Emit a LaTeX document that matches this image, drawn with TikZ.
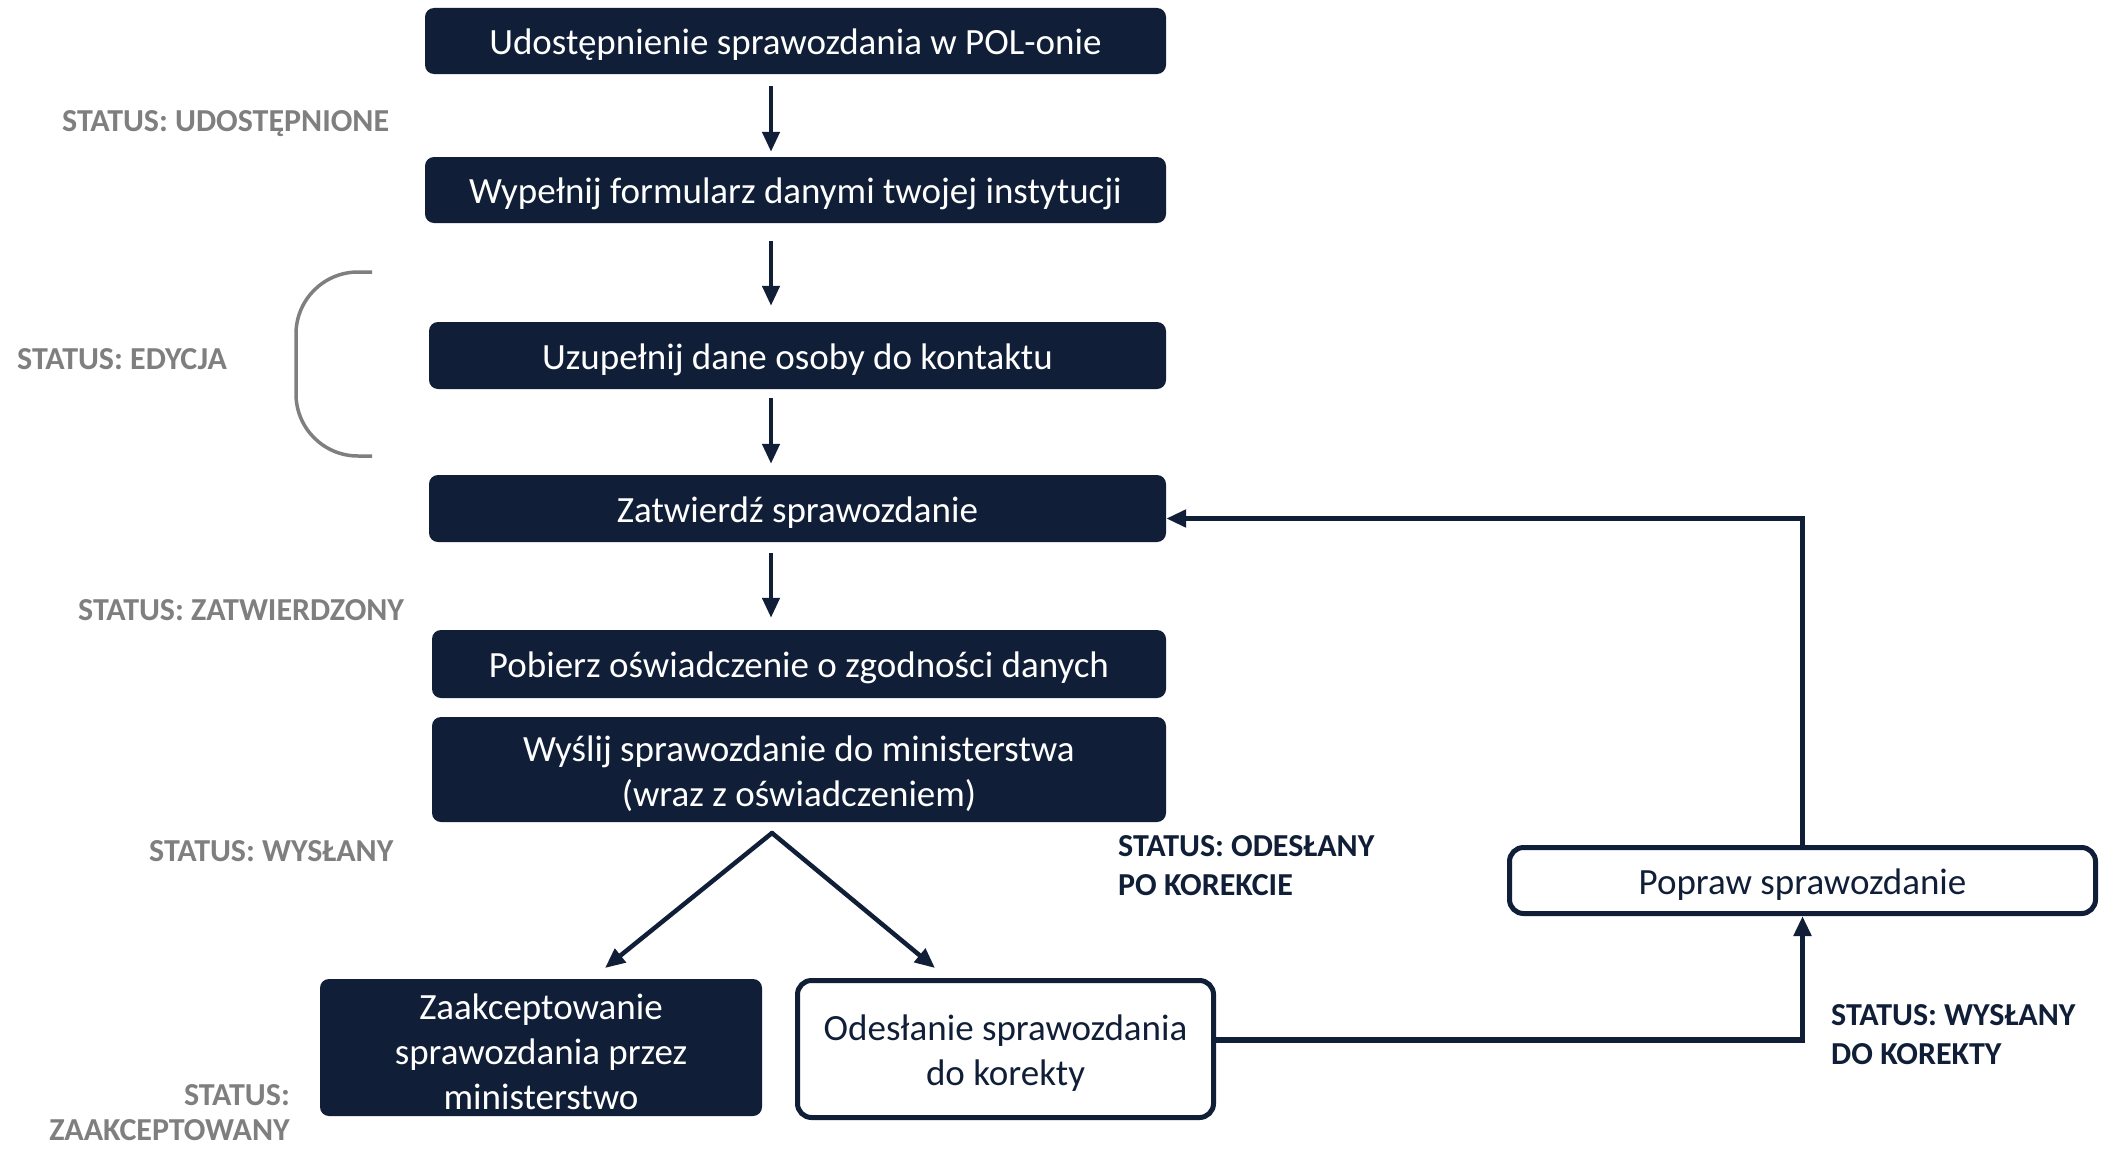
\documentclass[tikz,border=0pt]{standalone}
\usepackage{fontspec}
\setmainfont{Carlito}
\usetikzlibrary{arrows.meta}
\definecolor{navy}{HTML}{101F37}
\definecolor{stgray}{HTML}{7F7F7F}
\tikzset{
  darkbox/.style={fill=navy, draw=none, rounded corners=9pt, inner sep=0pt},
  whitebox/.style={fill=white, draw=navy, line width=5pt, rounded corners=14pt, inner sep=0pt},
  wtext/.style={text=white, align=center, inner sep=0pt, yshift=-4pt, font=\fontsize{37}{45}\selectfont},
  ntext/.style={text=navy, align=center, inner sep=0pt, yshift=-4pt, font=\fontsize{37}{45}\selectfont},
  stlabel/.style={text=stgray, inner sep=0pt, font=\fontsize{32}{38}\selectfont\bfseries},
  stdark/.style={text=navy, inner sep=0pt, align=left, font=\fontsize{32}{39}\selectfont\bfseries},
  arr/.style={draw=navy, line width=4.5pt, -{Triangle[length=20pt,width=17pt]}},
  fb/.style={draw=navy, line width=5.5pt, -{Triangle[length=20pt,width=17pt]}},
}
\begin{document}
\begin{tikzpicture}[x=1pt,y=-1pt]
\useasboundingbox[fill=white] (0,0) rectangle (2103,1148);
% boxes
\node[darkbox, minimum width=741pt, minimum height=66pt, label={[wtext]center:Udostępnienie sprawozdania w POL-onie}] (b1) at (795.5,41) {};
\node[darkbox, minimum width=741pt, minimum height=66pt, label={[wtext]center:Wypełnij formularz danymi twojej instytucji}] (b2) at (795.5,190) {};
\node[darkbox, minimum width=737pt, minimum height=67pt, label={[wtext]center:Uzupełnij dane osoby do kontaktu}] (b3) at (797.5,355.5) {};
\node[darkbox, minimum width=737pt, minimum height=67pt, label={[wtext]center:Zatwierdź sprawozdanie}] (b4) at (797.5,508.5) {};
\node[darkbox, minimum width=734pt, minimum height=68pt, label={[wtext]center:Pobierz oświadczenie o zgodności danych}] (b5) at (799,664) {};
\node[darkbox, minimum width=734pt, minimum height=105pt, label={[wtext]center:{Wyślij sprawozdanie do ministerstwa\\(wraz z oświadczeniem)}}] (b6) at (799,769.5) {};
\node[darkbox, minimum width=442pt, minimum height=137pt, label={[wtext]center:{Zaakceptowanie\\sprawozdania przez\\ministerstwo}}] (b7) at (541,1047.5) {};
\node[whitebox, minimum width=416pt, minimum height=137pt, label={[ntext]center:{Odesłanie sprawozdania\\do korekty}}] (b8) at (1005.5,1049) {};
\node[whitebox, minimum width=586pt, minimum height=66pt, label={[ntext]center:Popraw sprawozdanie}] (b9) at (1802.5,880.5) {};
% status labels
\node[stlabel, anchor=west] (s1) at (62,124) {STATUS: UDOSTĘPNIONE};
\node[stlabel, anchor=west] (s2) at (17,359) {STATUS: EDYCJA};
\node[stlabel, anchor=west] (s3) at (78,610) {STATUS: ZATWIERDZONY};
\node[stlabel, anchor=west] (s4) at (149,851) {STATUS: WYSŁANY};
\node[stlabel, anchor=east, align=right, font=\fontsize{32}{35}\selectfont\bfseries] (s5) at (290,1113) {STATUS:\\ZAAKCEPTOWANY};
\node[stdark, anchor=west] (s6) at (1118,866) {STATUS: ODESŁANY\\PO KOREKCIE};
\node[stdark, anchor=west] (s7) at (1831,1035) {STATUS: WYSŁANY\\DO KOREKTY};
% bracket
\draw[stgray, line width=3.5pt, rounded corners=62pt] (372,272) -- (296,272) -- (296,456) -- (372,456);
% vertical arrows
\coordinate (ax) at (771,0);
\draw[arr, shorten <=12pt, shorten >=5pt] (b1.south -| ax) -- (b2.north -| ax);
\draw[arr, shorten <=18pt, shorten >=16pt] (b2.south -| ax) -- (b3.north -| ax);
\draw[arr, shorten <=9pt, shorten >=11pt] (b3.south -| ax) -- (b4.north -| ax);
\draw[arr, shorten <=11pt, shorten >=12pt] (b4.south -| ax) -- (b5.north -| ax);
% split
\coordinate (apex) at (772,833);
\coordinate (t1) at (605,968);
\coordinate (t2) at (935,968);
\draw[arr, line cap=round] (apex) -- (t1);
\draw[arr, line cap=round] (apex) -- (t2);
% feedback loop
\draw[fb] ([yshift=9pt]b8.east) -| (b9.south);
\draw[fb] (b9.north) |- ([yshift=-10pt]b4.east);
\end{tikzpicture}
\end{document}
